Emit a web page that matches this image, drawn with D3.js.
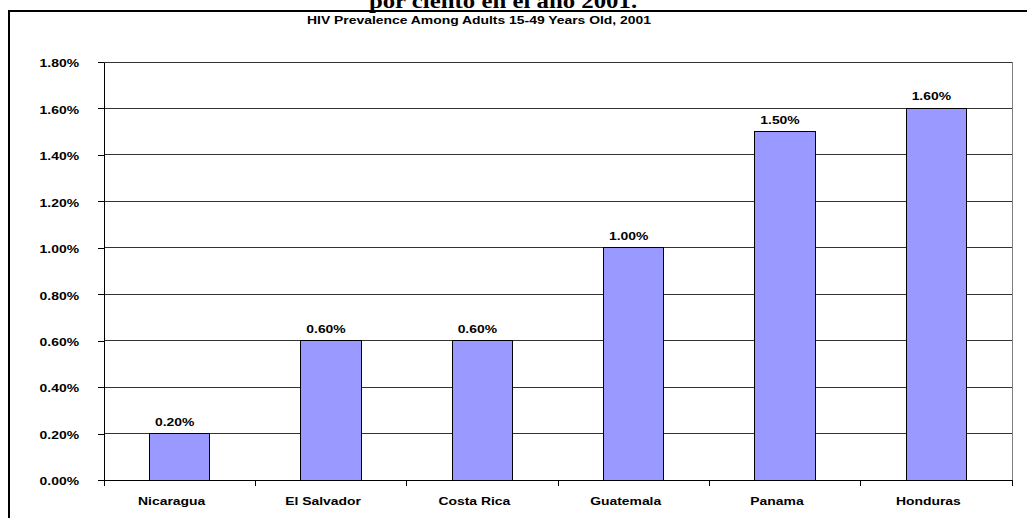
<!DOCTYPE html>
<html><head><meta charset="utf-8">
<script src="https://cdn.jsdelivr.net/npm/d3@7"></script>
<style>body{margin:0;background:#fff;overflow:hidden}</style>
</head><body><svg id="c" width="1027" height="518"></svg>
<script>
const categories = ["Nicaragua", "El Salvador", "Costa Rica", "Guatemala", "Panama", "Honduras"];
const prevalence = [0.002, 0.006, 0.006, 0.010, 0.015, 0.016];
const yTickValues = [0, 0.002, 0.004, 0.006, 0.008, 0.010, 0.012, 0.014, 0.016, 0.018];
const titleText = "por ciento en el año 2001.";
const subtitleText = "HIV Prevalence Among Adults 15-49 Years Old, 2001";

const SX = 1.21;
const FONT = "'Liberation Sans', Arial, sans-serif";
const svg = d3.select("#c");
const M = {left: 104, right: 1012, top: 62, bottom: 480};

// outer frame (extends past the window)
svg.append("rect").attr("x", 9).attr("y", 11).attr("width", 1100).attr("height", 600)
  .attr("fill", "none").attr("stroke", "#000").attr("stroke-width", 2);

function stretchText(sel) {
  sel.each(function () {
    const t = d3.select(this);
    const x = +t.attr("x") || 0, y = +t.attr("y") || 0;
    t.attr("x", 0).attr("y", 0).attr("transform", `translate(${x},${y}) scale(${SX},1)`);
  });
}

// title (clipped at top)
svg.append("text").attr("x", 503).attr("y", 7.5).attr("text-anchor", "middle")
  .attr("font-family", "'Liberation Serif', 'Times New Roman', serif").attr("font-weight", "bold")
  .attr("font-size", 20.5).text(titleText).call(stretchText);

svg.append("text").attr("x", 479).attr("y", 24).attr("text-anchor", "middle")
  .attr("font-family", FONT).attr("font-weight", "bold")
  .attr("font-size", 11.5).text(subtitleText).call(stretchText);

const x = d3.scaleBand().domain(categories).range([M.left, M.right]).paddingInner(0.6).paddingOuter(0.3);
const y = d3.scaleLinear().domain([0, 0.018]).range([M.bottom, M.top]);

// gridlines
svg.append("g").selectAll("line").data(yTickValues.filter(d => d > 0)).join("line")
  .attr("x1", M.left).attr("x2", M.right).attr("y1", d => y(d)).attr("y2", d => y(d))
  .attr("stroke", "#333").attr("stroke-width", 1).attr("shape-rendering", "crispEdges");

// right plot border
svg.append("line").attr("x1", M.right).attr("x2", M.right).attr("y1", M.top).attr("y2", M.bottom)
  .attr("stroke", "#808080").attr("shape-rendering", "crispEdges");

// bars
svg.append("g").selectAll("rect").data(categories).join("rect")
  .attr("x", d => x(d)).attr("width", x.bandwidth())
  .attr("y", (d, i) => y(prevalence[i])).attr("height", (d, i) => y(0) - y(prevalence[i]))
  .attr("fill", "#9999FF").attr("stroke", "#000").attr("stroke-width", 1)
  .attr("shape-rendering", "crispEdges");

// value labels
svg.append("g").selectAll("text").data(categories).join("text")
  .attr("x", d => x(d) + x.bandwidth() / 2 - 5).attr("y", (d, i) => y(prevalence[i]) - 8)
  .attr("text-anchor", "middle").attr("font-family", FONT).attr("font-weight", "bold")
  .attr("font-size", 11.5).attr("fill", "#000")
  .text((d, i) => d3.format(".2%")(prevalence[i])).call(stretchText);

// y axis
const yAxis = svg.append("g").attr("transform", `translate(${M.left},0)`)
  .call(d3.axisLeft(y).tickValues(yTickValues).tickFormat(d3.format(".2%"))
    .tickSize(6).tickSizeOuter(0).tickPadding(19));
yAxis.select(".domain").attr("stroke", "#000").attr("shape-rendering", "crispEdges");
yAxis.selectAll(".tick line").attr("stroke", "#000").attr("shape-rendering", "crispEdges");
yAxis.selectAll(".tick text").attr("font-family", FONT).attr("font-weight", "bold")
  .attr("font-size", 11.5).attr("fill", "#000").attr("dy", "0.42em").call(stretchText);

// x axis
const xAxis = svg.append("g").attr("transform", `translate(0,${M.bottom})`)
  .call(d3.axisBottom(x).tickSize(0).tickSizeOuter(0).tickPadding(17));
xAxis.select(".domain").attr("stroke", "#000").attr("shape-rendering", "crispEdges");
xAxis.selectAll(".tick text").attr("font-family", FONT).attr("font-weight", "bold")
  .attr("font-size", 11.5).attr("fill", "#000")
  .attr("x", -8).call(stretchText);
xAxis.selectAll(".tick text").attr("dy", "0.71em");

// category boundary ticks
const bounds = d3.range(categories.length + 1).map(i => M.left + i * x.step());
svg.append("g").selectAll("line").data(bounds).join("line")
  .attr("x1", d => d).attr("x2", d => d).attr("y1", M.bottom).attr("y2", M.bottom + 6)
  .attr("stroke", "#000").attr("shape-rendering", "crispEdges");
</script></body></html>
